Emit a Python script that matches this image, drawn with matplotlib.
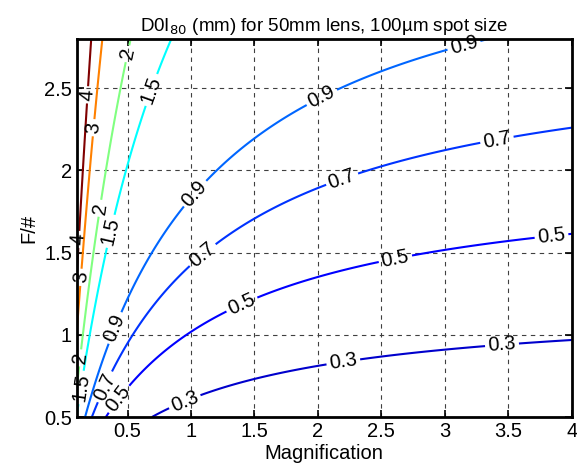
import numpy as np
import matplotlib
matplotlib.use("Agg")
import matplotlib.pyplot as plt

# axes ranges
magnification = np.linspace(0.1, 4.0, 500)
f_number = np.linspace(0.5, 2.8, 400)

# depth model for 50 mm lens, 100 um spot: depth = N * (a + b / (M - m0))
image_term = 0.25
object_term = 0.238
mag_offset = 0.012

levels = [0.3, 0.5, 0.7, 0.9, 1.5, 2, 3, 4]

# label spots: (level, magnification) on the flat curves,
# (level, f-number) on the steep ones
flat_labels = [
    (0.3, 0.95), (0.3, 2.2), (0.3, 3.45),
    (0.5, 0.43), (0.5, 1.40), (0.5, 2.61), (0.5, 3.84),
    (0.7, 0.32), (0.7, 1.09), (0.7, 2.19), (0.7, 3.41),
    (0.9, 0.40), (0.9, 1.03), (0.9, 2.03), (0.9, 3.15),
]
steep_labels = [
    (1.5, 0.68), (1.5, 1.63), (1.5, 2.49),
    (2, 0.86), (2, 1.77), (2, 2.71),
    (3, 1.35), (3, 2.26),
    (4, 1.58), (4, 2.46),
]

xticks = [0.5, 1, 1.5, 2, 2.5, 3, 3.5, 4]
yticks = [0.5, 1, 1.5, 2, 2.5]

plt.rcParams['font.family'] = ['Liberation Sans', 'DejaVu Sans']
fs = 14.5


def matlab_jet(t):
    r = np.clip(1.5 - abs(4 * t - 3), 0, 1)
    g = np.clip(1.5 - abs(4 * t - 2), 0, 1)
    b = np.clip(1.5 - abs(4 * t - 1), 0, 1)
    return (r, g, b)


M, N = np.meshgrid(magnification, f_number)
depth = N * (image_term + object_term / (M - mag_offset))

fig = plt.figure(figsize=(5.77, 4.75), dpi=100)
ax = fig.add_axes([0.133, 0.122, 0.858, 0.796])

line_colors = [matlab_jet(lv / 4.0) for lv in levels]
cs = ax.contour(M, N, depth, levels=levels, colors=line_colors,
                linewidths=1.5)

spots = [(m, lv / (image_term + object_term / (m - mag_offset)))
         for lv, m in flat_labels]
spots += [(object_term / (lv / n - image_term) + mag_offset, n)
          for lv, n in steep_labels]
labels = ax.clabel(cs, fmt='%g', manual=spots, colors='k', fontsize=fs,
                   inline=True, inline_spacing=3)
for t in labels:
    t.set_clip_on(False)

ax.set_xlim(0.1, 4.0)
ax.set_ylim(0.5, 2.8)
ax.set_xticks(xticks)
ax.set_xticklabels([f'{t:g}' for t in xticks])
ax.set_yticks(yticks)
ax.set_yticklabels([f'{t:g}' for t in yticks])
ax.tick_params(direction='in', top=True, right=True, labelsize=fs,
               length=5, width=1.2)
ax.grid(True, color='0.25', linestyle=(0, (4, 4)), linewidth=0.8)
for s in ax.spines.values():
    s.set_linewidth(2)

ax.set_xlabel('Magnification', fontsize=fs, labelpad=2)
ax.set_ylabel('F/#', fontsize=fs, labelpad=4)
ax.set_title('D0I$_{80}$ (mm) for 50mm lens, 100\u00b5m spot size',
             fontsize=13.5, pad=6)

fig.savefig('out.png', dpi=100)
